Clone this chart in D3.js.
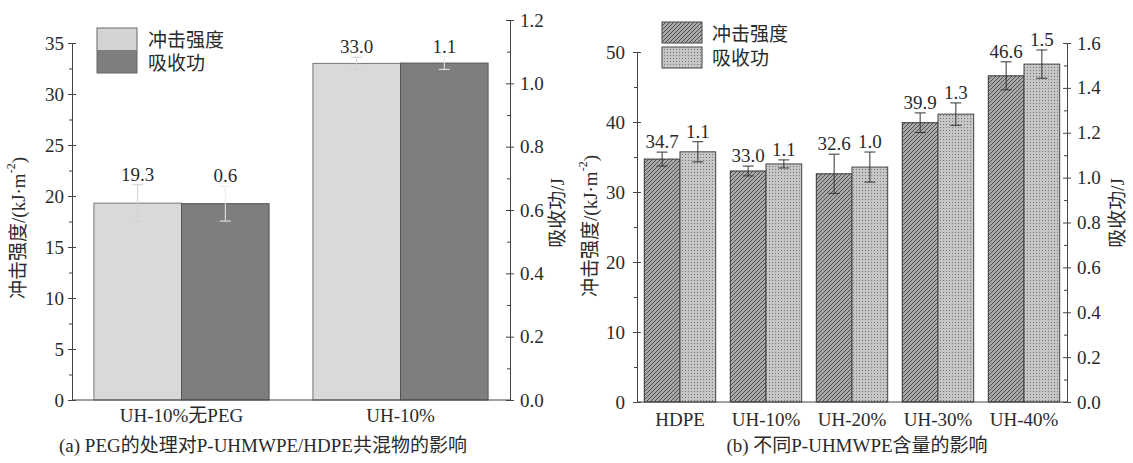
<!DOCTYPE html>
<html>
<head>
<meta charset="utf-8">
<script src="https://cdn.jsdelivr.net/npm/d3@7/dist/d3.min.js"></script>
<style>
  html, body { margin: 0; padding: 0; background: #fff; }
  svg { display: block; }
  text { font-family: "Liberation Serif", "Noto Sans CJK SC", serif; fill: #2a2a2a; }
  .axis path, .axis line { stroke: #444; }
</style>
</head>
<body>
<svg id="chart" width="1133" height="463"></svg>
<script>
// ---------- data: panel (a) ----------
const aCats = ["UH-10%无PEG", "UH-10%"];
const aImpact = [19.3, 33.0];
const aImpactErr = [1.8, 0.6];
const aEnergy = [0.62, 1.064];
const aEnergyErr = [0.055, 0.02];
const aImpactLabels = ["19.3", "33.0"];
const aEnergyLabels = ["0.6", "1.1"];
const aLeftTicks = [0, 5, 10, 15, 20, 25, 30, 35];
const aLeftMinor = [2.5, 7.5, 12.5, 17.5, 22.5, 27.5, 32.5];
const aRightTicks = [0, 0.2, 0.4, 0.6, 0.8, 1.0, 1.2];
const aRightMinor = [0.1, 0.3, 0.5, 0.7, 0.9, 1.1];

// ---------- data: panel (b) ----------
const bCats = ["HDPE", "UH-10%", "UH-20%", "UH-30%", "UH-40%"];
const bImpact = [34.7, 33.0, 32.6, 39.9, 46.6];
const bImpactErr = [1.0, 0.7, 2.8, 1.4, 2.0];
const bEnergy = [1.115, 1.061, 1.047, 1.283, 1.506];
const bEnergyErr = [0.045, 0.018, 0.067, 0.05, 0.063];
const bImpactLabels = ["34.7", "33.0", "32.6", "39.9", "46.6"];
const bEnergyLabels = ["1.1", "1.1", "1.0", "1.3", "1.5"];
const bLeftTicks = [0, 10, 20, 30, 40, 50];
const bLeftMinor = [5, 15, 25, 35, 45];
const bRightTicks = [0, 0.2, 0.4, 0.6, 0.8, 1.0, 1.2, 1.4, 1.6];
const bRightMinor = [0.1, 0.3, 0.5, 0.7, 0.9, 1.1, 1.3, 1.5];

const seriesNames = ["冲击强度", "吸收功"];
const captions = ["(a) PEG的处理对P-UHMWPE/HDPE共混物的影响", "(b) 不同P-UHMWPE含量的影响"];
const yTitleLeft = "冲击强度/(kJ·m";
const yTitleRight = "吸收功/J";

const svg = d3.select("#chart");

// patterns
const defs = svg.append("defs");
const hatch = defs.append("pattern").attr("id", "hatch").attr("patternUnits", "userSpaceOnUse")
  .attr("width", 4).attr("height", 4);
hatch.append("rect").attr("width", 4).attr("height", 4).attr("fill", "#a9a9a9");
hatch.append("path").attr("d", "M-1,1 L1,-1 M0,4 L4,0 M3,5 L5,3").attr("stroke", "#505050").attr("stroke-width", 1);
const dots = defs.append("pattern").attr("id", "dots").attr("patternUnits", "userSpaceOnUse")
  .attr("width", 3).attr("height", 3);
dots.append("rect").attr("width", 3).attr("height", 3).attr("fill", "#c6c6c6");
dots.append("rect").attr("x", 1).attr("y", 1).attr("width", 1).attr("height", 1).attr("fill", "#777");

function crossTicks(g, dir) {
  g.selectAll(".tick line").attr("x1", dir * -4);
}

function drawPanel(cfg) {
  const g = svg.append("g");
  const x = d3.scaleBand().domain(cfg.cats).range([cfg.x0, cfg.x1])
    .paddingInner(cfg.pad).paddingOuter(cfg.pad / 2);
  const x2 = d3.scaleBand().domain([0, 1]).range([0, x.bandwidth()]);
  const yL = d3.scaleLinear().domain([0, cfg.lMax]).range([cfg.y0, cfg.lTop]);
  const yR = d3.scaleLinear().domain([0, cfg.rMax]).range([cfg.y0, cfg.rTop]);

  cfg.cats.forEach((c, i) => {
    const bx = x(c);
    g.append("rect").attr("x", bx + x2(0)).attr("y", yL(cfg.impact[i]))
      .attr("width", x2.bandwidth()).attr("height", yL(0) - yL(cfg.impact[i]))
      .attr("fill", cfg.fill0).attr("stroke", cfg.stroke0).attr("stroke-width", 1);
    g.append("rect").attr("x", bx + x2(1)).attr("y", yR(cfg.energy[i]))
      .attr("width", x2.bandwidth()).attr("height", yR(0) - yR(cfg.energy[i]))
      .attr("fill", cfg.fill1).attr("stroke", cfg.stroke1).attr("stroke-width", 1);
  });

  function errbar(cx, ylo, yhi, color) {
    g.append("line").attr("x1", cx).attr("x2", cx).attr("y1", ylo).attr("y2", yhi)
      .attr("stroke", color).attr("stroke-width", 1);
    [ylo, yhi].forEach(yy => g.append("line").attr("x1", cx - 5.5).attr("x2", cx + 5.5)
      .attr("y1", yy).attr("y2", yy).attr("stroke", color).attr("stroke-width", 1));
  }
  cfg.cats.forEach((c, i) => {
    const c0 = x(c) + x2(0) + x2.bandwidth() / 2;
    const c1 = x(c) + x2(1) + x2.bandwidth() / 2;
    const t0 = yL(cfg.impact[i] + cfg.impactErr[i]);
    const t1 = yR(cfg.energy[i] + cfg.energyErr[i]);
    errbar(c0, yL(cfg.impact[i] - cfg.impactErr[i]), t0, cfg.errColor0);
    errbar(c1, yR(cfg.energy[i] - cfg.energyErr[i]), t1, cfg.errColor1);
    g.append("text").attr("x", c0).attr("y", t0 - 4).attr("text-anchor", "middle")
      .attr("font-size", 19).text(cfg.impactLabels[i]);
    g.append("text").attr("x", c1).attr("y", t1 - 4).attr("text-anchor", "middle")
      .attr("font-size", 19).text(cfg.energyLabels[i]);
  });

  const xa = g.append("g").attr("class", "axis").attr("transform", `translate(0,${cfg.y0})`)
    .call(d3.axisBottom(x).tickSize(0).tickSizeOuter(0).tickPadding(cfg.xPad));
  xa.select(".domain").attr("d", `M${cfg.x0},0H${cfg.x1}`);
  xa.selectAll("text").attr("font-size", 19).attr("fill", "#2a2a2a");

  const la = g.append("g").attr("class", "axis").attr("transform", `translate(${cfg.x0},0)`)
    .call(d3.axisLeft(yL).tickValues(cfg.lTicks).tickFormat(d3.format("d"))
      .tickSizeInner(4).tickSizeOuter(0).tickPadding(cfg.lPad));
  crossTicks(la, -1);
  la.selectAll("text").attr("font-size", 19).attr("fill", "#2a2a2a");
  g.append("g").attr("class", "axis").attr("transform", `translate(${cfg.x0},0)`)
    .call(d3.axisLeft(yL).tickValues(cfg.lMinor).tickFormat("").tickSizeInner(3).tickSizeOuter(0))
    .select(".domain").remove();

  const ra = g.append("g").attr("class", "axis").attr("transform", `translate(${cfg.x1},0)`)
    .call(d3.axisRight(yR).tickValues(cfg.rTicks).tickFormat(d3.format(".1f"))
      .tickSizeInner(4).tickSizeOuter(0).tickPadding(cfg.rPad));
  crossTicks(ra, 1);
  ra.selectAll("text").attr("font-size", 19).attr("fill", "#2a2a2a");
  g.append("g").attr("class", "axis").attr("transform", `translate(${cfg.x1},0)`)
    .call(d3.axisRight(yR).tickValues(cfg.rMinor).tickFormat("").tickSizeInner(-3).tickSizeOuter(0))
    .select(".domain").remove();

  const lt = g.append("text").attr("transform", `translate(${cfg.lTitleX},${cfg.lTitleY}) rotate(-90)`)
    .attr("text-anchor", "middle").attr("dominant-baseline", "central").attr("font-size", 19);
  lt.append("tspan").text(yTitleLeft);
  lt.append("tspan").attr("font-size", 12).attr("dy", -7).text("-2");
  lt.append("tspan").attr("dy", 7).text(")");
  g.append("text").attr("transform", `translate(${cfg.rTitleX},${cfg.rTitleY}) rotate(-90)`)
    .attr("text-anchor", "middle").attr("dominant-baseline", "central").attr("font-size", 19)
    .text(yTitleRight);

  cfg.legend(g);

  g.append("text").attr("x", cfg.capX).attr("y", cfg.capY).attr("text-anchor", "middle")
    .attr("font-size", 19).text(cfg.caption);
}

drawPanel({
  cats: aCats, impact: aImpact, impactErr: aImpactErr, energy: aEnergy, energyErr: aEnergyErr,
  impactLabels: aImpactLabels, energyLabels: aEnergyLabels,
  x0: 72, x1: 510, y0: 400, pad: 0.2,
  lMax: 35, lTop: 43, rMax: 1.2, rTop: 20,
  lTicks: aLeftTicks, lMinor: aLeftMinor, rTicks: aRightTicks, rMinor: aRightMinor,
  fill0: "#d9d9d9", stroke0: "#777", fill1: "#7e7e7e", stroke1: "#555",
  errColor0: "#d0d0d0", errColor1: "#ececec",
  xPad: 9, lPad: 4, rPad: 6,
  lTitleX: 18, lTitleY: 228, rTitleX: 557, rTitleY: 213,
  capX: 263, capY: 452, caption: captions[0],
  legend: (g) => {
    g.append("rect").attr("x", 97).attr("y", 28).attr("width", 40).attr("height", 22).attr("fill", "#d4d4d4");
    g.append("rect").attr("x", 97).attr("y", 50).attr("width", 40).attr("height", 23).attr("fill", "#7e7e7e");
    g.append("rect").attr("x", 97).attr("y", 28).attr("width", 40).attr("height", 45)
      .attr("fill", "none").attr("stroke", "#666");
    g.append("text").attr("x", 148).attr("y", 47).attr("font-size", 19).text(seriesNames[0]);
    g.append("text").attr("x", 148).attr("y", 70).attr("font-size", 19).text(seriesNames[1]);
  }
});

drawPanel({
  cats: bCats, impact: bImpact, impactErr: bImpactErr, energy: bEnergy, energyErr: bEnergyErr,
  impactLabels: bImpactLabels, energyLabels: bEnergyLabels,
  x0: 637, x1: 1067, y0: 402, pad: 0.17,
  lMax: 50, lTop: 52, rMax: 1.6, rTop: 43,
  lTicks: bLeftTicks, lMinor: bLeftMinor, rTicks: bRightTicks, rMinor: bRightMinor,
  fill0: "url(#hatch)", stroke0: "#333", fill1: "url(#dots)", stroke1: "#444",
  errColor0: "#333", errColor1: "#333",
  xPad: 11, lPad: 8, rPad: 6,
  lTitleX: 590, lTitleY: 226, rTitleX: 1117, rTitleY: 213,
  capX: 857, capY: 452, caption: captions[1],
  legend: (g) => {
    g.append("rect").attr("x", 662).attr("y", 22).attr("width", 40).attr("height", 21)
      .attr("fill", "url(#hatch)").attr("stroke", "#444");
    g.append("rect").attr("x", 662).attr("y", 47).attr("width", 40).attr("height", 21)
      .attr("fill", "url(#dots)").attr("stroke", "#444");
    g.append("text").attr("x", 712).attr("y", 41).attr("font-size", 19).text(seriesNames[0]);
    g.append("text").attr("x", 712).attr("y", 65).attr("font-size", 19).text(seriesNames[1]);
  }
});
</script>
</body>
</html>
